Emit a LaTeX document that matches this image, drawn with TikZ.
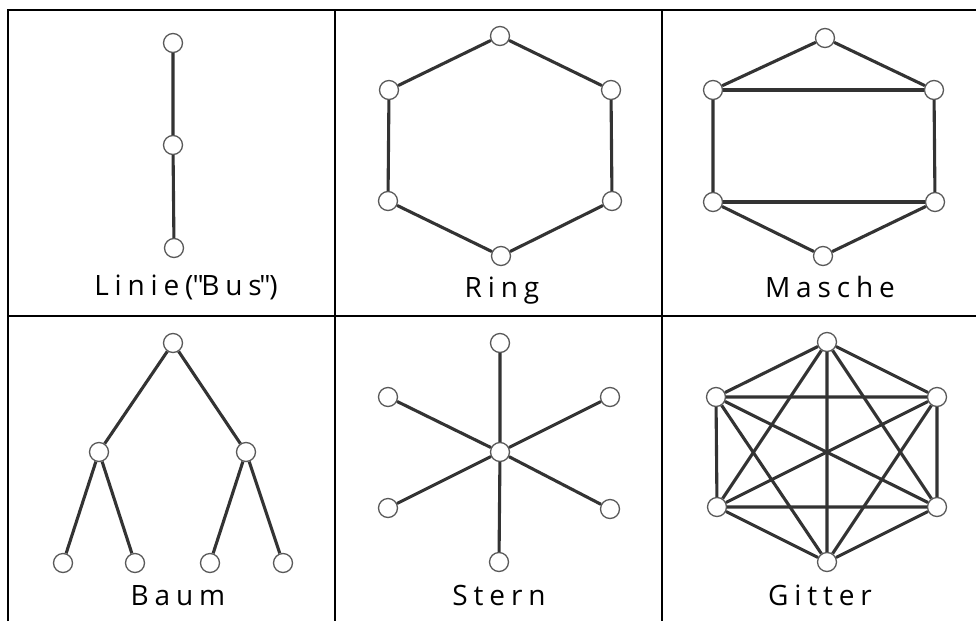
\documentclass[tikz,border=0pt]{standalone}
\usepackage{fontspec}
\usepackage{tikz}
\newfontfamily\titelfont[LetterSpace=21]{Open Sans}

\begin{document}
\begin{tikzpicture}[x=1pt, y=-1pt,
		knoten/.style={circle, draw=black!65, fill=white, line width=1.3pt, minimum size=19pt, inner sep=0pt},
		kante/.style={line width=3.1pt, draw=black!80},
		rahmen/.style={line width=2.6pt, draw=black},
		titel/.style={anchor=base, font=\titelfont\fontsize{28}{32}\selectfont}]
		\useasboundingbox (0, 0) rectangle (976, 621);
		\draw[rahmen] (8, 621) -- (8, 10) -- (976, 10);
		\draw[rahmen] (8, 316) -- (976, 316);
		\draw[rahmen] (335, 10) -- (335, 621);
		\draw[rahmen] (662, 10) -- (662, 621);

		\node[knoten] (b1) at (173, 43) {};
		\node[knoten] (b2) at (173, 145) {};
		\node[knoten] (b3) at (174, 248) {};
		\draw[kante] (b1) -- (b2) -- (b3);
		\node[titel] (tbus) at (186, 295) {Linie(\kern-1pt"\kern-2.5pt Bus\kern-2.5pt"\kern-1pt)};

		\node[knoten] (r1) at (500, 36) {};
		\node[knoten] (r2) at (611, 90) {};
		\node[knoten] (r3) at (612, 201) {};
		\node[knoten] (r4) at (501, 256) {};
		\node[knoten] (r5) at (388, 201) {};
		\node[knoten] (r6) at (389, 90) {};
		\draw[kante] (r1) -- (r2) -- (r3) -- (r4) -- (r5) -- (r6) -- (r1);
		\node[titel] (tring) at (502, 297) {Ring};

		\node[knoten] (m1) at (825, 38) {};
		\node[knoten] (m2) at (934, 90) {};
		\node[knoten] (m3) at (935, 202) {};
		\node[knoten] (m4) at (823, 256) {};
		\node[knoten] (m5) at (713, 202) {};
		\node[knoten] (m6) at (713, 90) {};
		\draw[kante] (m1) -- (m2) -- (m3) -- (m4) -- (m5) -- (m6) -- (m1);
		\draw[kante] (m6) -- (m2);
		\draw[kante] (m5) -- (m3);
		\node[titel] (tmasche) at (830, 297) {Masche};

		\node[knoten] (w) at (173, 343) {};
		\node[knoten] (wl) at (99, 452) {};
		\node[knoten] (wr) at (246, 452) {};
		\node[knoten] (w1) at (63, 563) {};
		\node[knoten] (w2) at (135, 563) {};
		\node[knoten] (w3) at (210, 563) {};
		\node[knoten] (w4) at (283, 563) {};
		\draw[kante] (wl) -- (w) -- (wr);
		\draw[kante] (w1) -- (wl) -- (w2);
		\draw[kante] (w3) -- (wr) -- (w4);
		\node[titel] (tbaum) at (178, 605) {Baum};

		\node[knoten] (s0) at (500, 452) {};
		\node[knoten] (s1) at (500, 343) {};
		\node[knoten] (s2) at (610, 397) {};
		\node[knoten] (s3) at (610, 509) {};
		\node[knoten] (s4) at (499, 562) {};
		\node[knoten] (s5) at (388, 508) {};
		\node[knoten] (s6) at (388, 397) {};
		\draw[kante] (s0) -- (s1) (s0) -- (s2) (s0) -- (s3) (s0) -- (s4) (s0) -- (s5) (s0) -- (s6);
		\node[titel] (tstern) at (499, 605) {Stern};

		\node[knoten] (g1) at (827, 342) {};
		\node[knoten] (g2) at (937, 397) {};
		\node[knoten] (g3) at (937, 507) {};
		\node[knoten] (g4) at (827, 562) {};
		\node[knoten] (g5) at (717, 507) {};
		\node[knoten] (g6) at (716, 397) {};
		\draw[kante] (g1) -- (g2) (g1) -- (g3) (g1) -- (g4) (g1) -- (g5) (g1) -- (g6);
		\draw[kante] (g2) -- (g3) (g2) -- (g4) (g2) -- (g5) (g2) -- (g6);
		\draw[kante] (g3) -- (g4) (g3) -- (g5) (g3) -- (g6);
		\draw[kante] (g4) -- (g5) (g4) -- (g6);
		\draw[kante] (g5) -- (g6);
		\node[titel] (tgitter) at (820, 605) {Gitter};
	\end{tikzpicture}
\end{document}
